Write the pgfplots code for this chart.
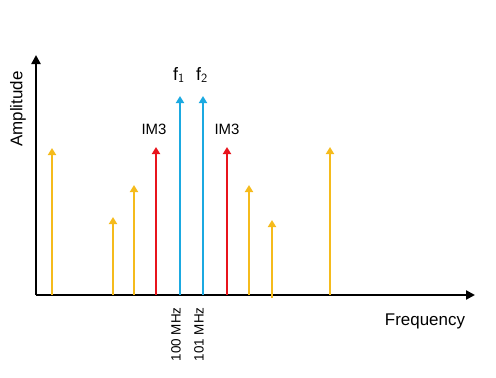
\documentclass[border=0pt]{standalone}
\usepackage{pgfplots}
\pgfplotsset{compat=1.18}
\usepackage{fontspec}
\setmainfont{Liberation Sans}
\usetikzlibrary{arrows.meta}
\definecolor{cOr}{HTML}{F5BB1C}
\definecolor{cRd}{HTML}{E8141C}
\definecolor{cBl}{HTML}{1BA9E1}
\begin{document}
\begin{tikzpicture}
\begin{axis}[
  scale only axis, width=439bp, height=240bp,
  xmin=36, xmax=475, ymin=0, ymax=240,
  axis lines=left,
  axis line style={black, line width=2.8bp, -{Triangle[width=9bp,length=9bp]}},
  ytick=\empty,
  xtick={180,203}, xticklabels={100 MHz,101 MHz},
  major tick length=0pt,
  xticklabel style={rotate=90, anchor=east, font=\fontsize{13.5}{15}\selectfont, xshift=-9bp, yshift=4bp},
  /pgf/number format/assume math mode=true,
  clip=false,
]
\path (axis cs:0,-83) rectangle (axis cs:496,295);
\addplot[cOr, line width=2.8bp, -{Triangle[width=8bp,length=7bp]}, quiver={u=0, v=\thisrow{h}}] table {
x y h
52 0 147
113 0 78
134 0 110
249 0 110
272 -3 78
330 0 148
};
\addplot[cRd, line width=2.8bp, -{Triangle[width=8bp,length=7bp]}, quiver={u=0, v=\thisrow{h}}] table {
x y h
156 0 148
227 0 148
};
\addplot[cBl, line width=2.8bp, -{Triangle[width=8bp,length=7bp]}, quiver={u=0, v=\thisrow{h}}] table {
x y h
180 0 199
203 0 199
};
\node[rotate=90, font=\fontsize{17}{19}\selectfont] at (axis cs:18,186) {Amplitude};
\node[font=\fontsize{17}{19}\selectfont] at (axis cs:425,-26) {Frequency};
\node[font=\fontsize{15}{18}\selectfont] at (axis cs:154,166) {IM3};
\node[font=\fontsize{15}{18}\selectfont] at (axis cs:227,166) {IM3};
\node[font=\fontsize{18}{20}\selectfont] at (axis cs:179,220) {f$_{\mathsf 1}$};
\node[font=\fontsize{18}{20}\selectfont] at (axis cs:202,220) {f$_{\mathsf 2}$};
\end{axis}
\end{tikzpicture}
\end{document}
